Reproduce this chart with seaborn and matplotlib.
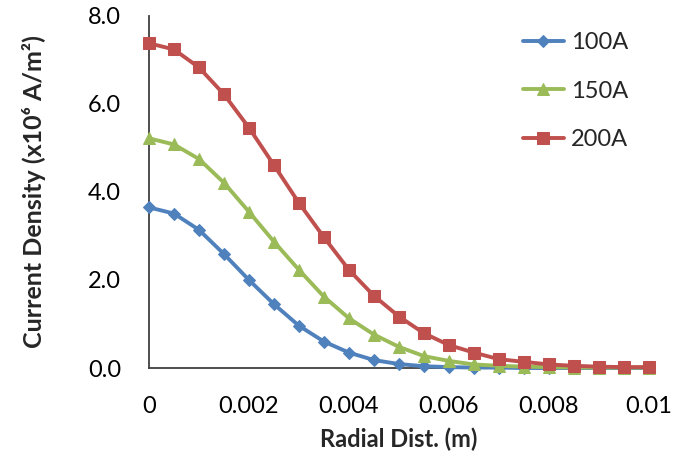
import matplotlib
matplotlib.use("Agg")
import matplotlib.pyplot as plt
from matplotlib.ticker import MultipleLocator, FixedLocator
import seaborn as sns
import pandas as pd

radial = [0.0, 0.0005, 0.001, 0.0015, 0.002, 0.0025, 0.003, 0.0035, 0.004, 0.0045,
          0.005, 0.0055, 0.006, 0.0065, 0.007, 0.0075, 0.008, 0.0085, 0.009, 0.0095, 0.01]
j_100 = [3.65, 3.51, 3.14, 2.59, 2.00, 1.45, 0.96, 0.60, 0.35, 0.18,
         0.09, 0.04, 0.02, 0.01, 0.01, 0.0, 0.0, 0.0, 0.0, 0.0, 0.0]
j_150 = [5.22, 5.08, 4.75, 4.21, 3.55, 2.87, 2.23, 1.62, 1.13, 0.76,
         0.48, 0.27, 0.16, 0.08, 0.05, 0.03, 0.02, 0.01, 0.01, 0.01, 0.01]
j_200 = [7.38, 7.24, 6.83, 6.22, 5.46, 4.61, 3.75, 2.97, 2.23, 1.64,
         1.17, 0.79, 0.52, 0.35, 0.20, 0.14, 0.08, 0.05, 0.03, 0.02, 0.02]
series = ["100A", "150A", "200A"]
x_tick_values = [0.0, 0.002, 0.004, 0.006, 0.008, 0.01]
x_tick_labels = ["0", "0.002", "0.004", "0.006", "0.008", "0.01"]
y_tick_values = [0.0, 2.0, 4.0, 6.0, 8.0]
y_tick_labels = ["0.0", "2.0", "4.0", "6.0", "8.0"]

df = pd.concat([
    pd.DataFrame({"r": radial, "J": vals, "Current": name})
    for name, vals in zip(series, [j_100, j_150, j_200])
])

sns.set_theme(style="white")
plt.rcParams["font.family"] = ["Lato", "DejaVu Sans"]

palette = {"100A": "#4F81BD", "150A": "#9BBB59", "200A": "#C0504D"}
markers = {"100A": "D", "150A": "^", "200A": "s"}
msizes = {"100A": 6, "150A": 8.5, "200A": 8.5}

fig = plt.figure(figsize=(6.75, 4.65), dpi=100)
ax = fig.add_axes([0.2207, 0.2086, 0.7407, 0.757])

for name in series:
    sub = df[df["Current"] == name]
    sns.lineplot(data=sub, x="r", y="J", ax=ax, color=palette[name],
                 marker=markers[name], markersize=msizes[name],
                 markeredgecolor=palette[name], linewidth=2.8, label=name,
                 clip_on=False, zorder=3)

ax.set_xlim(0, 0.01)
ax.set_ylim(0, 8)
ax.xaxis.set_major_locator(FixedLocator(x_tick_values))
ax.set_xticklabels(x_tick_labels)
ax.xaxis.set_minor_locator(MultipleLocator(0.0004))
ax.yaxis.set_major_locator(FixedLocator(y_tick_values))
ax.set_yticklabels(y_tick_labels)
ax.yaxis.set_minor_locator(MultipleLocator(0.4))

ax.tick_params(axis="both", which="both", direction="in", color="#404040",
               width=1.0, labelsize=17, colors="black")
ax.tick_params(axis="both", which="major", length=7)
ax.tick_params(axis="both", which="minor", length=7)
ax.tick_params(axis="x", which="major", pad=20)
ax.tick_params(axis="y", which="major", pad=20)

for side in ["top", "right"]:
    ax.spines[side].set_visible(False)
for side in ["left", "bottom"]:
    ax.spines[side].set_color("#404040")
    ax.spines[side].set_linewidth(1.3)

ax.set_xlabel("Radial Dist. (m)", fontsize=17, fontweight="bold", labelpad=8)
ax.set_ylabel("Current Density (x10\u2076 A/m\u00b2)", fontsize=18,
              fontweight="bold", labelpad=30)

leg = ax.legend(loc="upper left", bbox_to_anchor=(0.73, 0.98), frameon=False,
                fontsize=17, handlelength=1.7, handletextpad=0.3,
                labelspacing=1.15, borderaxespad=0)

fig.savefig("out.png", dpi=100)
